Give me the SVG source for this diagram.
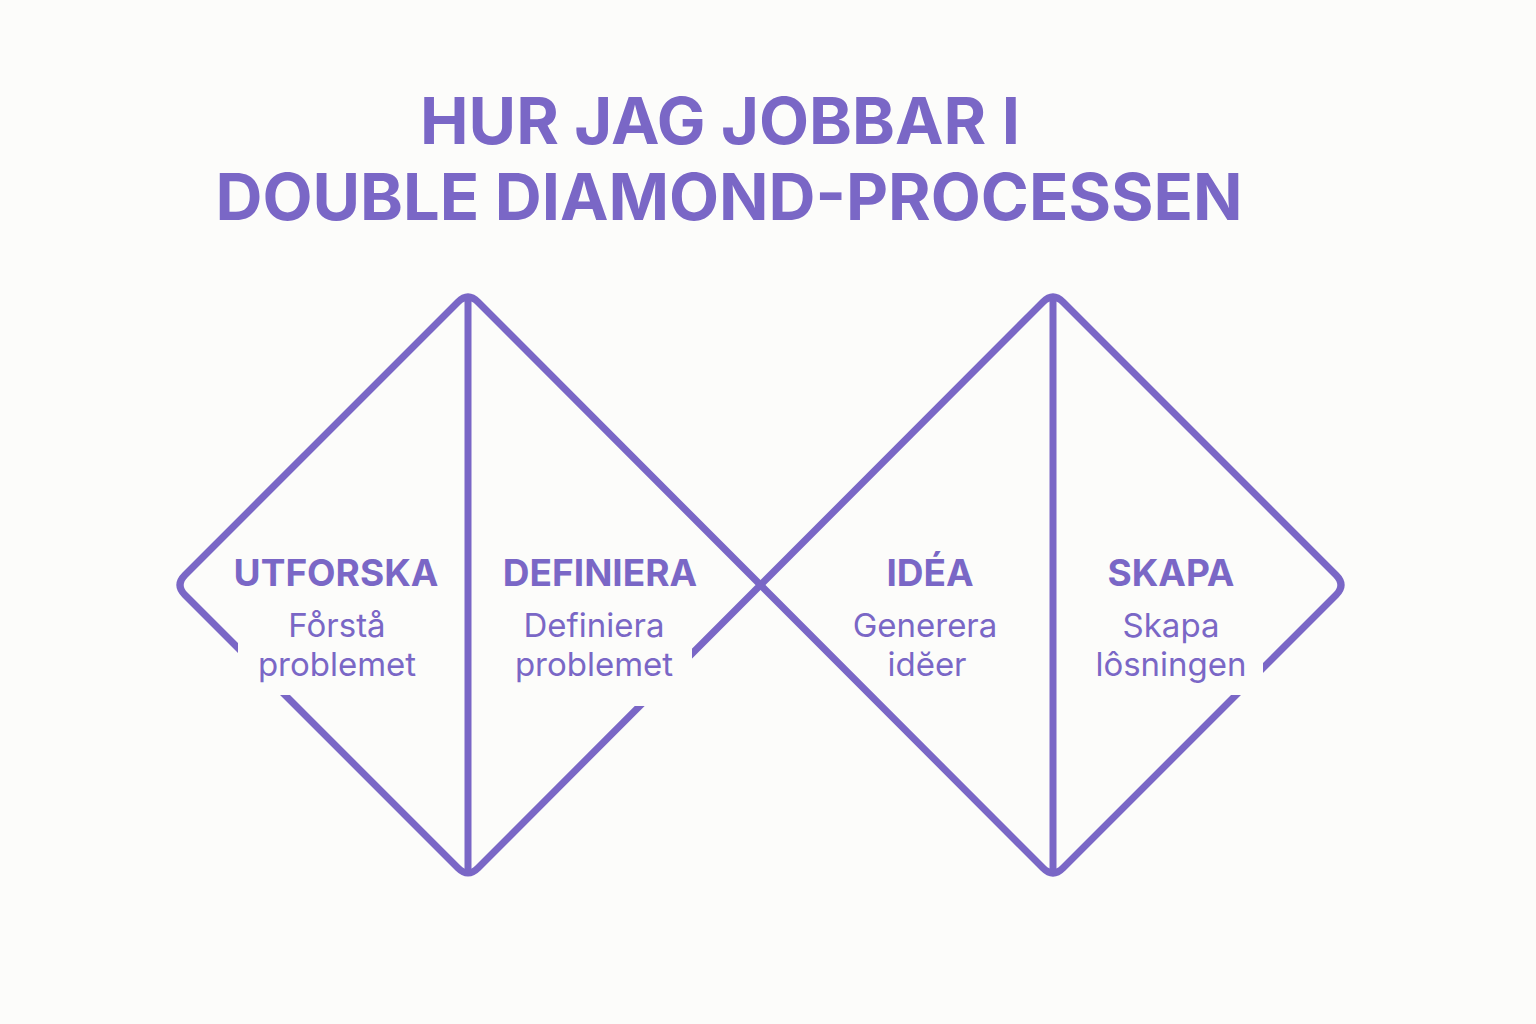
<svg xmlns="http://www.w3.org/2000/svg" width="1536" height="1024" viewBox="0 0 1536 1024">
<style>
.title{font-family:"Inter","Liberation Sans",sans-serif;font-weight:700;font-size:65px;fill:#7A67C6;text-anchor:middle}
.head{font-family:"Inter","Liberation Sans",sans-serif;font-weight:700;font-size:37px;fill:#7A67C6;text-anchor:middle}
.sub{font-family:"Inter","Liberation Sans",sans-serif;font-weight:400;font-size:33px;fill:#7A67C6;text-anchor:middle}
.line{fill:none;stroke:#7A67C6;stroke-width:7;stroke-linejoin:miter;stroke-linecap:round}
.mask{fill:#FCFCFA}
</style>
<rect width="1536" height="1024" fill="#FCFCFA"/>
<g id="title">
<text class="title" x="720" y="144">HUR JAG JOBBAR I</text>
<text class="title" x="729" y="220">DOUBLE DIAMOND-PROCESSEN</text>
</g>
<g id="connectors">
<path class="line" d="M185,575 L458,302 Q468,292 478,302 L760.5,585 L478,868 Q468,878 458,868 L185,595 Q175,585 185,575 Z"/>
<path class="line" d="M1043,302 Q1053,292 1063,302 L1336,575 Q1346,585 1336,595 L1063,868 Q1053,878 1043,868 L760.5,585 Z"/>
<line class="line" x1="468" y1="300" x2="468" y2="870"/>
<line class="line" x1="1053" y1="300" x2="1053" y2="870"/>
<rect class="mask" x="238" y="600" width="200" height="95"/>
<rect class="mask" x="500" y="600" width="192" height="106"/>
<rect class="mask" x="1080" y="600" width="183" height="95"/>
</g>
<g id="node-utforska">
<text class="head" x="336" y="586">UTFORSKA</text>
<text class="sub" x="337" y="637">Fo̊rstå</text>
<text class="sub" x="337" y="676">problemet</text>
</g>
<g id="node-definiera">
<text class="head" x="600" y="586">DEFINIERA</text>
<text class="sub" x="594" y="637">Definiera</text>
<text class="sub" x="594" y="676">problemet</text>
</g>
<g id="node-idea">
<text class="head" x="930" y="586">IDÉA</text>
<text class="sub" x="925" y="637">Generera</text>
<text class="sub" x="927" y="676">idĕer</text>
</g>
<g id="node-skapa">
<text class="head" x="1171" y="586">SKAPA</text>
<text class="sub" x="1171" y="637">Skapa</text>
<text class="sub" x="1171" y="676">lôsningen</text>
</g>
</svg>
